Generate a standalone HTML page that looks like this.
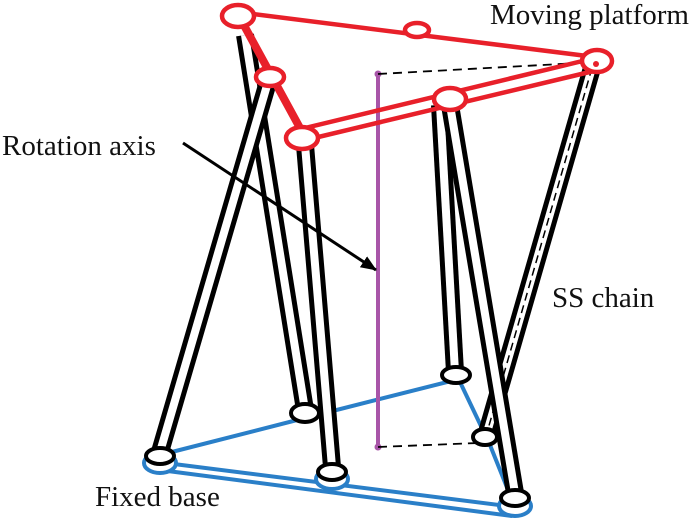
<!DOCTYPE html>
<html><head><meta charset="utf-8"><style>
html,body{margin:0;padding:0;background:#fff;width:700px;height:522px;overflow:hidden}
</style></head><body>
<svg width="700" height="522" viewBox="0 0 700 522" xmlns="http://www.w3.org/2000/svg">
<defs>
<marker id="ah" markerWidth="16" markerHeight="13" refX="15" refY="6.5" orient="auto" markerUnits="userSpaceOnUse"><path d="M0,0 L16,6.5 L0,13 z" fill="#000"/></marker>
</defs>
<g stroke="#2a7fc8" stroke-width="4" fill="none">
<line x1="160" y1="455" x2="305" y2="418"/>
<line x1="305" y1="418" x2="455" y2="380"/>
<line x1="460" y1="382" x2="490" y2="445"/>
<line x1="490" y1="445" x2="512" y2="500"/>
<line x1="158" y1="462" x2="515" y2="507"/>
<line x1="160" y1="470" x2="512" y2="516"/>
</g>
<g fill="none">
<line x1="245" y1="35" x2="305" y2="410" stroke="#000" stroke-width="18"/><line x1="245" y1="35" x2="305" y2="410" stroke="#fff" stroke-width="8"/>
<line x1="440" y1="105" x2="455" y2="372" stroke="#000" stroke-width="18"/><line x1="440" y1="105" x2="455" y2="372" stroke="#fff" stroke-width="8"/>
<line x1="592" y1="68" x2="486" y2="436" stroke="#000" stroke-width="18"/><line x1="592" y1="68" x2="486" y2="436" stroke="#fff" stroke-width="8"/>
<line x1="592" y1="68" x2="486" y2="436" stroke="#000" stroke-width="1.5" stroke-dasharray="8,5"/>
<line x1="268" y1="82" x2="160" y2="452" stroke="#000" stroke-width="18"/><line x1="268" y1="82" x2="160" y2="452" stroke="#fff" stroke-width="8"/>
<line x1="305" y1="145" x2="332" y2="467" stroke="#000" stroke-width="18"/><line x1="305" y1="145" x2="332" y2="467" stroke="#fff" stroke-width="8"/>
<line x1="450" y1="105" x2="515" y2="493" stroke="#000" stroke-width="18"/><line x1="450" y1="105" x2="515" y2="493" stroke="#fff" stroke-width="8"/>
</g>
<g stroke-width="4" fill="#fff">
<ellipse cx="305" cy="413" rx="14" ry="9" stroke="#000"/>
<ellipse cx="456" cy="375" rx="14" ry="8" stroke="#000"/>
<ellipse cx="485" cy="437" rx="12" ry="8" stroke="#000"/>
<ellipse cx="160" cy="463" rx="16" ry="10" stroke="#2a7fc8"/>
<ellipse cx="160" cy="456" rx="14" ry="8" stroke="#000"/>
<ellipse cx="332" cy="479" rx="16" ry="10" stroke="#2a7fc8"/>
<ellipse cx="332" cy="472" rx="14" ry="8" stroke="#000"/>
<ellipse cx="515" cy="506" rx="16" ry="10" stroke="#2a7fc8"/>
<ellipse cx="515" cy="498" rx="14" ry="8" stroke="#000"/>
</g>
<line x1="378" y1="74" x2="378" y2="447" stroke="#a855a8" stroke-width="4"/>
<circle cx="378" cy="74" r="3.5" fill="#a855a8"/><circle cx="378" cy="447" r="3.5" fill="#a855a8"/>
<line x1="378" y1="74" x2="597" y2="62" stroke="#000" stroke-width="1.8" stroke-dasharray="9,6"/>
<line x1="378" y1="447" x2="478" y2="443" stroke="#000" stroke-width="1.8" stroke-dasharray="9,6"/>
<g stroke="#e8202a" fill="none" stroke-width="4.5">
<line x1="237" y1="12" x2="595" y2="57"/>
<line x1="240" y1="18" x2="300" y2="128" stroke-width="8"/>
<line x1="305" y1="128" x2="595" y2="58"/>
<line x1="310" y1="139" x2="598" y2="70"/>
</g>
<g stroke="#e8202a" stroke-width="4.5" fill="#fff">
<ellipse cx="238" cy="16" rx="16" ry="11"/>
<ellipse cx="417" cy="30" rx="12" ry="7"/>
<ellipse cx="270" cy="77" rx="14" ry="9"/>
<ellipse cx="450" cy="99" rx="16" ry="11"/>
<ellipse cx="302" cy="138" rx="16" ry="11"/>
<ellipse cx="597" cy="61" rx="15" ry="11"/>
</g>
<circle cx="596" cy="64" r="3" fill="#e8202a"/>
<line x1="183" y1="143" x2="376" y2="270" stroke="#000" stroke-width="3" marker-end="url(#ah)"/>
<g font-family="Liberation Serif, serif" font-size="29" fill="#111">
<text x="490" y="24">Moving platform</text>
<text x="2" y="155">Rotation axis</text>
<text x="552" y="307">SS chain</text>
<text x="95" y="506">Fixed base</text>
</g>
</svg>
</body></html>
